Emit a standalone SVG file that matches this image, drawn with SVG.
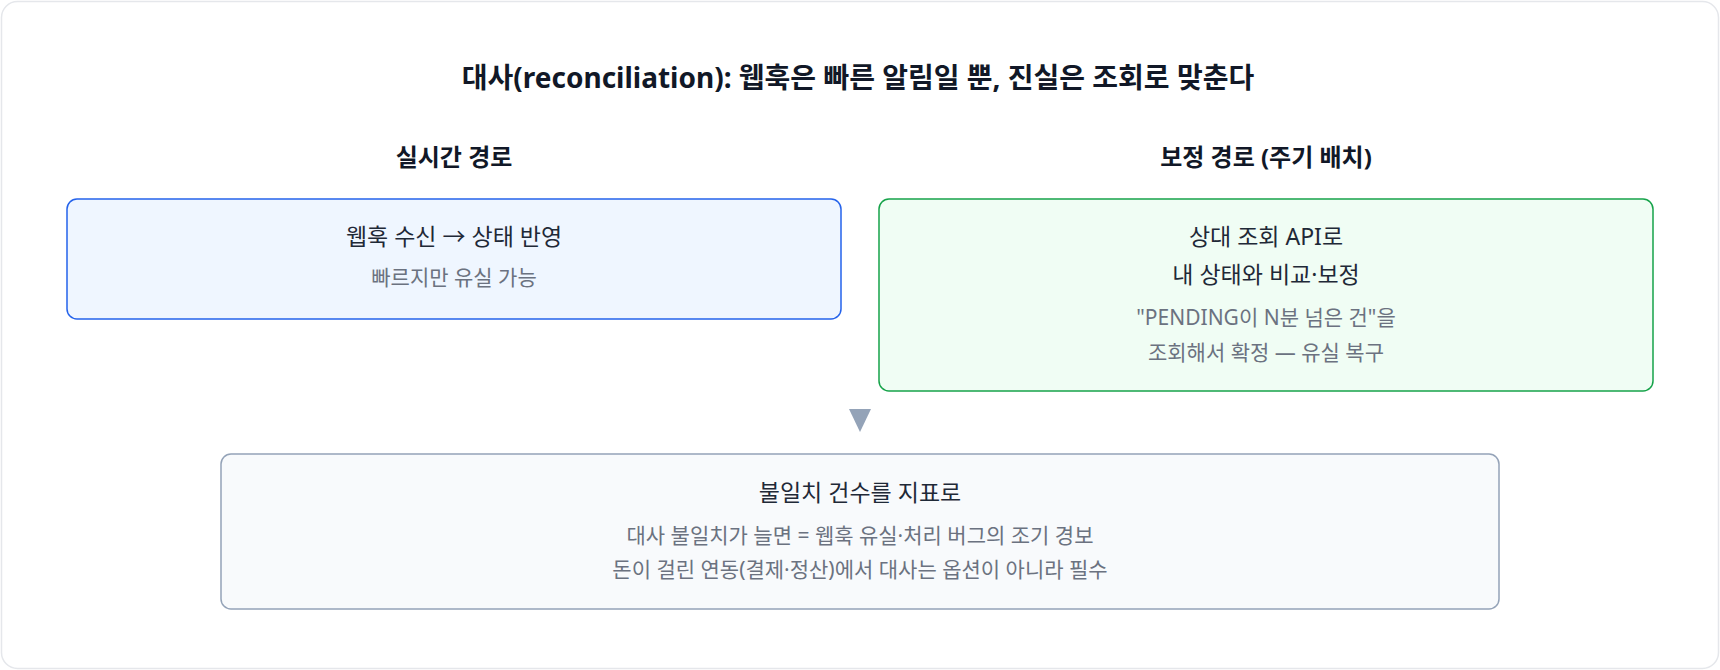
<svg xmlns="http://www.w3.org/2000/svg" width="1720" height="670" viewBox="0 0 1720 670">
<style>
text{font-family:"Noto Sans","Noto Sans CJK KR",sans-serif;text-anchor:middle}
.title{font-size:28px;font-weight:700;fill:#111827}
.head{font-size:24px;font-weight:700;fill:#111827}
.main{font-size:23px;fill:#1f2937}
.sub{font-size:21px;fill:#6b7280}
</style>
<rect x="1.5" y="1.5" width="1717" height="667" rx="16" fill="#ffffff" stroke="#e5e7eb" stroke-width="1.5"/>
<text class="title" x="858" y="88">대사(reconciliation): 웹훅은 빠른 알림일 뿐, 진실은 조회로 맞춘다</text>
<text class="head" x="454" y="166">실시간 경로</text>
<text class="head" x="1266" y="166">보정 경로 (주기 배치)</text>
<g id="realtime">
<rect x="67" y="199" width="774" height="120" rx="10" fill="#eff6ff" stroke="#2563eb" stroke-width="1.5"/>
<text class="main" x="454" y="245">웹훅 수신 → 상태 반영</text>
<text class="sub" x="454" y="285">빠르지만 유실 가능</text>
</g>
<g id="batch">
<rect x="879" y="199" width="774" height="192" rx="10" fill="#f0fdf4" stroke="#16a34a" stroke-width="1.5"/>
<text class="main" x="1266" y="245">상대 조회 API로</text>
<text class="main" x="1266" y="283">내 상태와 비교·보정</text>
<text class="sub" x="1266" y="325">"PENDING이 N분 넘은 건"을</text>
<text class="sub" x="1266" y="360">조회해서 확정 — 유실 복구</text>
</g>
<g id="connectors">
<polygon points="849,409 871,409 860,432" fill="#94a3b8"/>
</g>
<g id="metric">
<rect x="221" y="454" width="1278" height="155" rx="10" fill="#f8fafc" stroke="#94a3b8" stroke-width="1.5"/>
<text class="main" x="860" y="501">불일치 건수를 지표로</text>
<text class="sub" x="860" y="543">대사 불일치가 늘면 = 웹훅 유실·처리 버그의 조기 경보</text>
<text class="sub" x="860" y="577">돈이 걸린 연동(결제·정산)에서 대사는 옵션이 아니라 필수</text>
</g>
</svg>
